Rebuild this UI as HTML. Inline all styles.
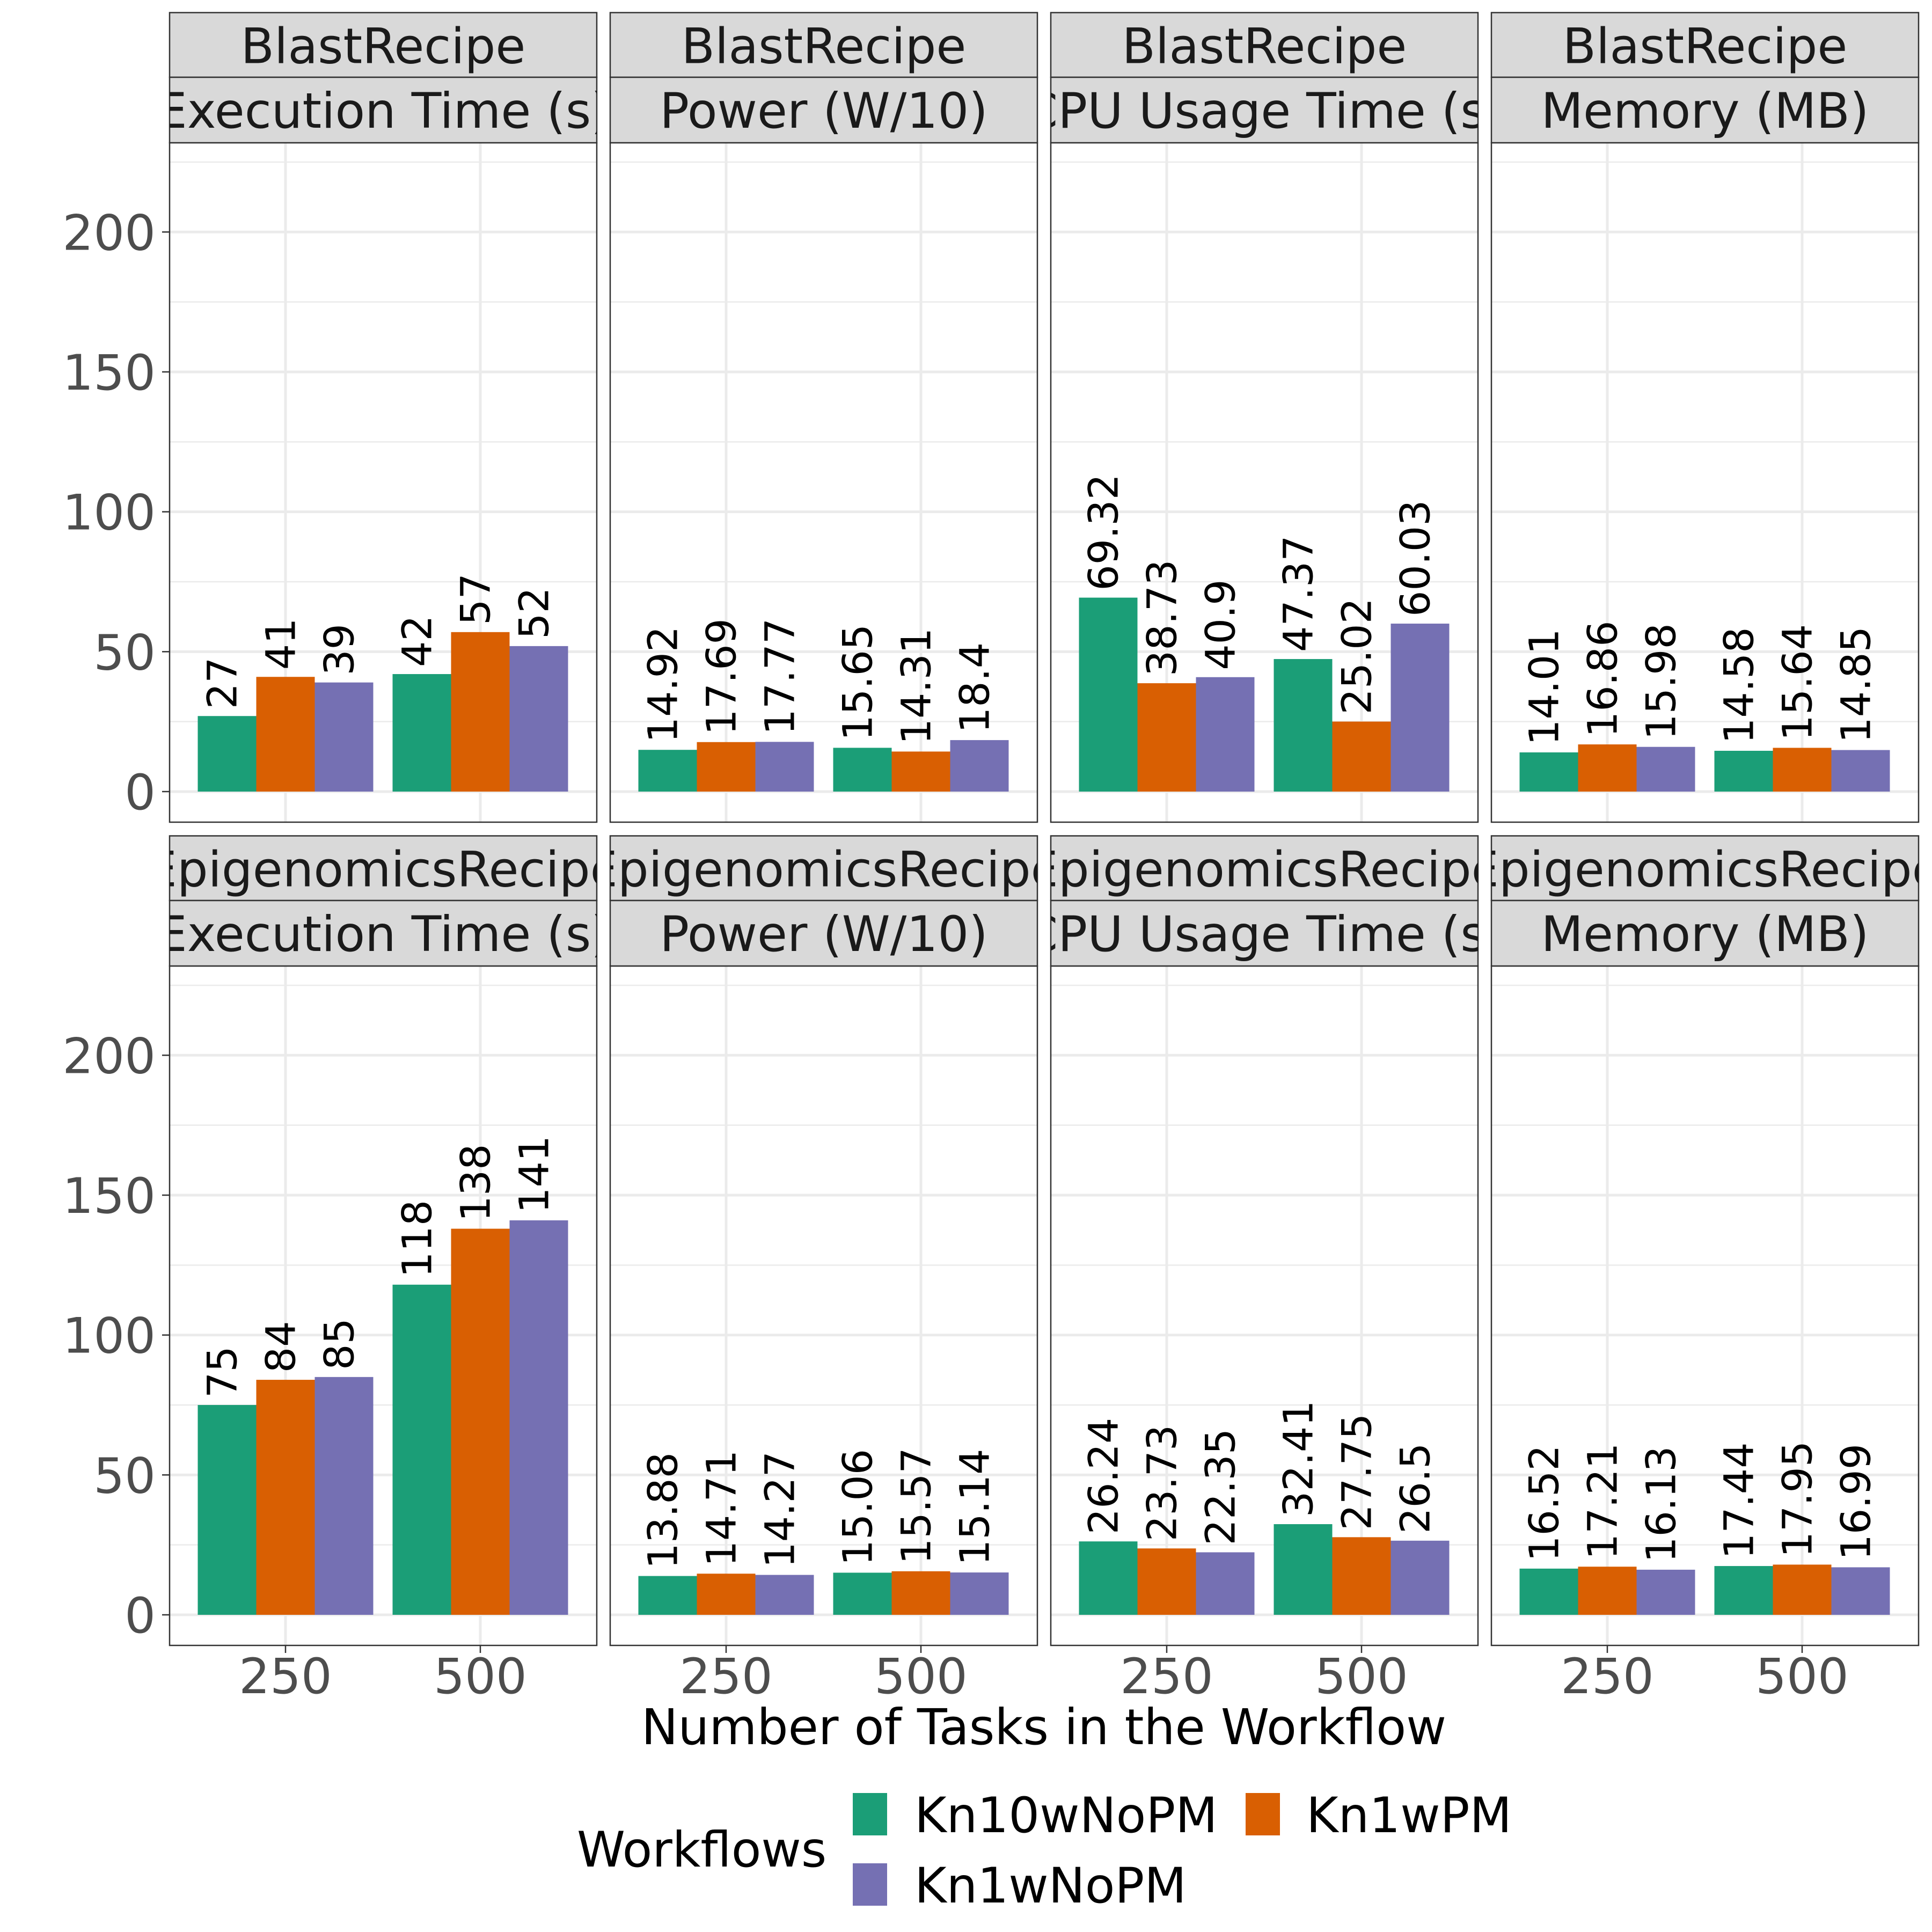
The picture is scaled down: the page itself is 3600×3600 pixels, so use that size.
<!DOCTYPE html>
<html><head><meta charset="utf-8"><style>
html,body{margin:0;padding:0;background:#fff}
svg{display:block}
text{font-family:"DejaVu Sans","Liberation Sans",sans-serif}
</style></head><body>
<svg id="chart" width="3600" height="3600" viewBox="0 0 3600 3600" xmlns="http://www.w3.org/2000/svg">
<rect width="3600" height="3600" fill="#fff"/>
<text x="1945" y="3250" font-size="91.5" text-anchor="middle" fill="#000">Number of Tasks in the Workflow</text>
<g>
<text x="1075" y="3478" font-size="91" fill="#000">Workflows</text>
<rect x="1589" y="3341" width="64" height="79" fill="#1B9E77"/>
<text x="1704" y="3414" font-size="91" fill="#000">Kn10wNoPM</text>
<rect x="2321" y="3341" width="64" height="79" fill="#D95F02"/>
<text x="2434" y="3414" font-size="91" fill="#000">Kn1wPM</text>
<rect x="1589" y="3472" width="64" height="79" fill="#7570B3"/>
<text x="1704" y="3545" font-size="91" fill="#000">Kn1wNoPM</text>
</g>
</svg>
<script>
const categories = ["250", "500"];
const seriesNames = ["Kn10wNoPM", "Kn1wPM", "Kn1wNoPM"];
const rowLabels = ["BlastRecipe", "EpigenomicsRecipe"];
const colLabels = ["Execution Time (s)", "Power (W/10)", "CPU Usage Time (s)", "Memory (MB)"];
const yTicks = [0, 50, 100, 150, 200];
const blastExecKn10 = [27, 42], blastExecKn1PM = [41, 57], blastExecKn1NoPM = [39, 52];
const blastPowKn10 = [14.92, 15.65], blastPowKn1PM = [17.69, 14.31], blastPowKn1NoPM = [17.77, 18.4];
const blastCpuKn10 = [69.32, 47.37], blastCpuKn1PM = [38.73, 25.02], blastCpuKn1NoPM = [40.9, 60.03];
const blastMemKn10 = [14.01, 14.58], blastMemKn1PM = [16.86, 15.64], blastMemKn1NoPM = [15.98, 14.85];
const epiExecKn10 = [75, 118], epiExecKn1PM = [84, 138], epiExecKn1NoPM = [85, 141];
const epiPowKn10 = [13.88, 15.06], epiPowKn1PM = [14.71, 15.57], epiPowKn1NoPM = [14.27, 15.14];
const epiCpuKn10 = [26.24, 32.41], epiCpuKn1PM = [23.73, 27.75], epiCpuKn1NoPM = [22.35, 26.5];
const epiMemKn10 = [16.52, 17.44], epiMemKn1PM = [17.21, 17.95], epiMemKn1NoPM = [16.13, 16.99];

const facets = [
 [[blastExecKn10, blastExecKn1PM, blastExecKn1NoPM],[blastPowKn10, blastPowKn1PM, blastPowKn1NoPM],[blastCpuKn10, blastCpuKn1PM, blastCpuKn1NoPM],[blastMemKn10, blastMemKn1PM, blastMemKn1NoPM]],
 [[epiExecKn10, epiExecKn1PM, epiExecKn1NoPM],[epiPowKn10, epiPowKn1PM, epiPowKn1NoPM],[epiCpuKn10, epiCpuKn1PM, epiCpuKn1NoPM],[epiMemKn10, epiMemKn1PM, epiMemKn1NoPM]]
];
const colors = ["#1B9E77", "#D95F02", "#7570B3"];

const NS = "http://www.w3.org/2000/svg";
const svg = document.getElementById("chart");
function mk(tag, attrs, parent) {
  const e = document.createElementNS(NS, tag);
  for (const k in attrs) e.setAttribute(k, attrs[k]);
  (parent || svg).appendChild(e);
  return e;
}
const PX = 5.2135;
const panelW = 796, stepX = 821, left0 = 316;
const rowOff = 1534;
function yScale(v, r) { return 1475 + r * rowOff - v * PX; }
function xCenter(i, c) { return left0 + c * stepX + 216 + i * 363; }
const barW = 109;

const defs = mk("defs", {});
for (let r = 0; r < 2; r++) {
  for (let c = 0; c < 4; c++) {
    const pl = left0 + c * stepX, pr = pl + panelW;
    const stTop = 23.5 + r * rowOff, stMid = 144 + r * rowOff, pTop = 266 + r * rowOff, pBot = 1532 + r * rowOff;
    const g = mk("g", {});
    
    
    for (let t = 0; t < yTicks.length; t++) {
      const mv = yTicks[t] + 25;
      const y = yScale(mv, r);
      if (y > pTop) {
        const l = mk("line", {x1: pl, x2: pr, y1: y, y2: y, stroke: "#EBEBEB", "stroke-width": 2.5}, g);
        
        
      }
    }
    for (const t of yTicks) {
      const y = yScale(t, r);
      const l = mk("line", {x1: pl, x2: pr, y1: y, y2: y, stroke: "#EBEBEB", "stroke-width": 5}, g);
      
      
    }
    for (let i = 0; i < categories.length; i++) {
      const x = xCenter(i, c);
      const l = mk("line", {x1: x, x2: x, y1: pTop, y2: pBot, stroke: "#EBEBEB", "stroke-width": 5}, g);
      
      
    }
    const data = facets[r][c];
    for (let i = 0; i < categories.length; i++) {
      for (let s = 0; s < 3; s++) {
        const v = data[s][i];
        const xc = xCenter(i, c) + (s - 1) * barW;
        const y = yScale(v, r);
        const b = mk("rect", {x: xc - barW / 2, y: y, width: barW, height: yScale(0, r) - y, fill: colors[s]}, g);
        
        
        const tx = xc - 9, ty = y - 13;
        const t = mk("text", {x: tx, y: ty, "font-size": 76, fill: "#000", "dominant-baseline": "central", transform: "rotate(-90 " + tx + " " + ty + ")"}, g);
        t.textContent = String(v);
        
        
      }
    }
    const border = mk("rect", {x: pl, y: pTop, width: panelW, height: pBot - pTop, fill: "none", stroke: "#333", "stroke-width": 2.5}, g);
    
    
    const cpId = "cp" + r + c;
    const cp = mk("clipPath", {id: cpId}, defs);
    mk("rect", {x: pl, y: stTop, width: panelW, height: pTop - stTop}, cp);
    const s1 = mk("rect", {x: pl, y: stTop, width: panelW, height: stMid - stTop, fill: "#D9D9D9", stroke: "#333", "stroke-width": 2.5}, g);
    
    
    const s2 = mk("rect", {x: pl, y: stMid, width: panelW, height: pTop - stMid, fill: "#D9D9D9", stroke: "#333", "stroke-width": 2.5}, g);
    
    
    const tg = mk("g", {"clip-path": "url(#" + cpId + ")"}, g);
    const t1 = mk("text", {x: pl + panelW / 2, y: stTop + 94, "font-size": 91, "text-anchor": "middle", fill: "#1A1A1A"}, tg);
    t1.textContent = rowLabels[r];
    
    
    const t2 = mk("text", {x: pl + panelW / 2, y: stMid + 94, "font-size": 91, "text-anchor": "middle", fill: "#1A1A1A"}, tg);
    t2.textContent = colLabels[c];
    
    
    if (c === 0) {
      for (const t of yTicks) {
        const y = yScale(t, r);
        const tk = mk("line", {x1: pl - 14, x2: pl, y1: y, y2: y, stroke: "#333", "stroke-width": 2.5}, g);
        
        
        const lb = mk("text", {x: 290, y: y + 33, "font-size": 91, "text-anchor": "end", fill: "#4D4D4D"}, g);
        lb.textContent = t;
        
        
      }
    }
    if (r === 1) {
      for (let i = 0; i < categories.length; i++) {
        const x = xCenter(i, c);
        const tk = mk("line", {x1: x, x2: x, y1: pBot, y2: pBot + 14, stroke: "#333", "stroke-width": 2.5}, g);
        
        
        const lb = mk("text", {x: x, y: 3155, "font-size": 91, "text-anchor": "middle", fill: "#4D4D4D"}, g);
        lb.textContent = categories[i];
        
        
      }
    }
  }
}
</script>
</body></html>
